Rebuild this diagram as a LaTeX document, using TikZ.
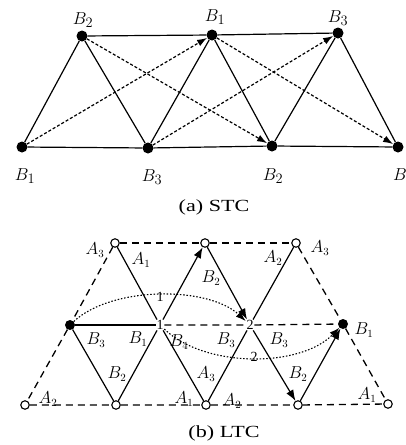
\documentclass[tikz,border=0pt]{standalone}
\usepackage{fontspec}
\setmainfont{Liberation Serif}
\usetikzlibrary{arrows.meta}
\begin{document}
\begin{tikzpicture}[x=1pt,y=-1pt,
  dot/.style={circle,fill=black,inner sep=0pt,minimum size=11pt},
  sdot/.style={circle,fill=black,inner sep=0pt,minimum size=10pt},
  odot/.style={circle,draw=black,fill=white,line width=1.1pt,inner sep=0pt,minimum size=8.5pt},
  jn/.style={inner sep=0.6pt,font=\fontsize{14}{15}\selectfont},
  albl/.style={inner sep=0pt,font=\fontsize{19}{21}\selectfont},
  blbl/.style={inner sep=0pt,font=\fontsize{16}{18}\selectfont},
  capt/.style={inner sep=0pt,font=\fontsize{17}{19}\selectfont},
  edge/.style={line width=1.2pt},
  darr/.style={line width=1.2pt,dash pattern=on 3pt off 2pt,-{Latex[length=10pt,width=7pt]}},
  sarr/.style={line width=1.2pt,-{Latex[length=11pt,width=8pt]}},
  ldash/.style={line width=1.3pt,dash pattern=on 7pt off 5pt},
  dotarr/.style={line width=1.1pt,dash pattern=on 1.5pt off 1.8pt,-{Latex[length=10pt,width=7pt]}}
]
\useasboundingbox (0,0) rectangle (406,445);

% ---------- (a) STC ----------
\node[dot] (u2) at (82,36) {};
\node[dot] (u1) at (212,35) {};
\node[dot] (u3) at (338,33) {};
\node[dot] (l1) at (22,147) {};
\node[dot] (l3) at (148,148) {};
\node[dot] (l2) at (272,146) {};
\node[dot] (l4) at (398,147) {};

\draw[edge] (u2) -- (u1) -- (u3);
\draw[edge] (l1) -- (l3) -- (l2) -- (l4);
\draw[edge] (l1) -- (u2) -- (l3) -- (u1) -- (l2) -- (u3) -- (l4);
\draw[darr] (l1) -- (u1);
\draw[darr] (u2) -- (l2);
\draw[darr] (l3) -- (u3);
\draw[darr] (u1) -- (l4);

\node[albl] (tu2) at (83,20) {$B_2$};
\node[albl] (tu1) at (215,17) {$B_1$};
\node[albl] (tu3) at (338,18) {$B_3$};
\node[albl] (tl1) at (25,176) {$B_1$};
\node[albl] (tl3) at (152,177) {$B_3$};
\node[albl] (tl2) at (273,176) {$B_2$};
\node[albl] (tl4) at (400,175) {$B$};
\node[capt] (capa) at (214,207) {\scalebox{1.3}[1]{(a) STC}};

% ---------- (b) LTC ----------
\node[odot] (t1) at (115,243) {};
\node[odot] (t2) at (205,243) {};
\node[odot] (t3) at (296,243) {};
\node[sdot] (m0) at (70,325) {};
\node[jn] (m1) at (160,325) {1};
\node[jn] (m2) at (250,325) {2};
\node[sdot] (m3) at (343,324) {};
\node[odot] (d0) at (25,405) {};
\node[odot] (d1) at (116,405) {};
\node[odot] (d2) at (206,405) {};
\node[odot] (d3) at (298,405) {};
\node[odot] (d4) at (388,404) {};

\draw[ldash] (t1) -- (t2) -- (t3);
\draw[ldash] (t1) -- (m0) -- (d0);
\draw[ldash] (t3) -- (m3) -- (d4);
\draw[ldash] (d0) -- (d1) -- (d2) -- (d3) -- (d4);
\draw[ldash] (m1) -- (m2) -- (m3);
\draw[edge] (m0) -- (m1);
\draw[edge] (t1) -- (m1);
\draw[edge] (m0) -- (d1) -- (m1) -- (d2) -- (m2) -- (t3);
\draw[sarr] (m1) -- (t2);
\draw[sarr] (t2) -- (m2);
\draw[sarr] (m2) -- (d3);
\draw[sarr] (d3) -- (m3);

\draw[dotarr] (m0) .. controls (112,286) and (208,286) .. (m2);
\draw[dotarr] (m1) .. controls (205,368) and (300,368) .. (m3);
\node[jn] (c1) at (160,297) {1};
\node[jn] (c2) at (254,357) {2};

\node[blbl] (la3) at (95,250) {$A_3$};
\node[blbl] (la1) at (141,260) {$A_1$};
\node[blbl] (lb2t) at (211,278) {$B_2$};
\node[blbl] (la2t) at (273,258) {$A_2$};
\node[blbl] (la3r) at (320,248) {$A_3$};
\node[blbl] (lb3l) at (96,340) {$B_3$};
\node[blbl] (lb1l) at (138,339) {$B_1$};
\node[blbl] (lb4) at (179,342) {$B_4$};
\node[blbl] (lb3m) at (226,340) {$B_3$};
\node[blbl] (lb3r) at (279,340) {$B_3$};
\node[blbl] (lb1r) at (364,330) {$B_1$};
\node[blbl] (lb2l) at (117,374) {$B_2$};
\node[blbl] (la3m) at (206,374) {$A_3$};
\node[blbl] (lb2r) at (298,374) {$B_2$};
\node[blbl] (la2l) at (48,399) {$A_2$};
\node[blbl] (la1m) at (184,399) {$A_1$};
\node[blbl] (la2m) at (232,401) {$A_2$};
\node[blbl] (la1r) at (367,395) {$A_1$};
\node[capt] (capb) at (224,433) {\scalebox{1.3}[1]{(b) LTC}};
\end{tikzpicture}
\end{document}
